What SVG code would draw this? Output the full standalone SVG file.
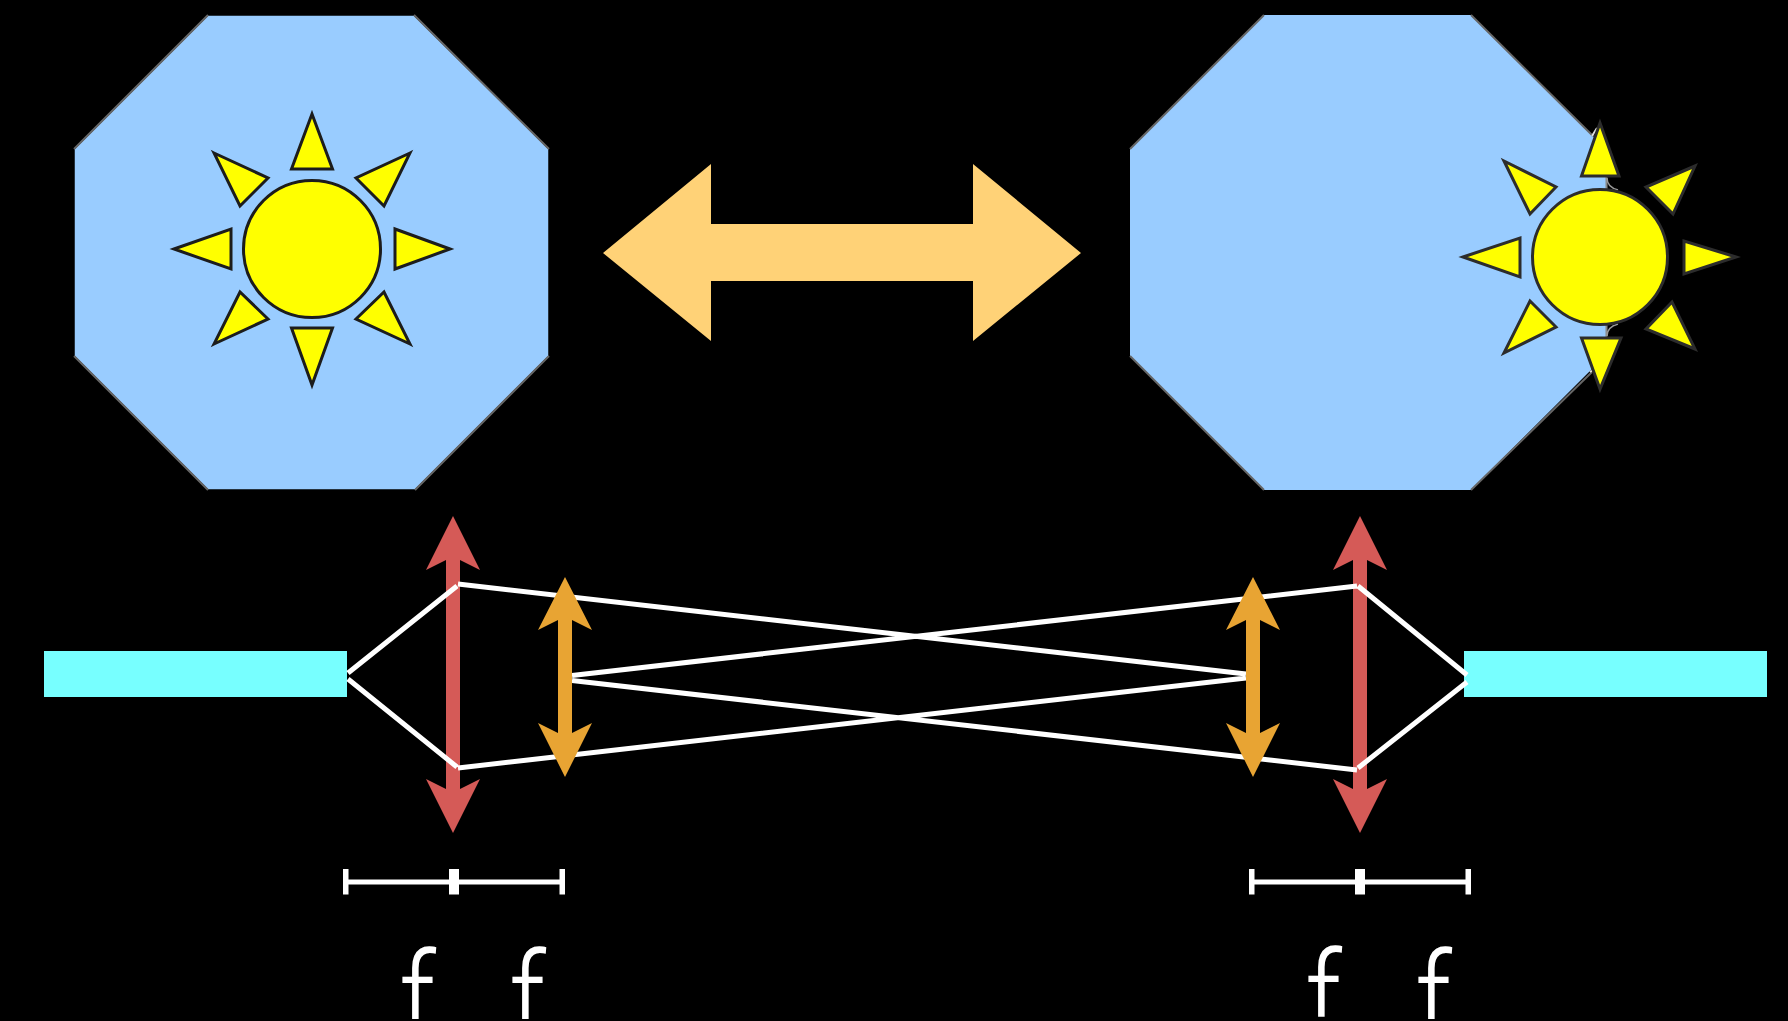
<svg xmlns="http://www.w3.org/2000/svg" width="1788" height="1021" viewBox="0 0 1788 1021">
<style>
.oct{fill:#99ccff;stroke:#000;stroke-width:1.5}
.edge{fill:none;stroke:#666;stroke-width:2}
.sun{fill:#ffff00;stroke:#1c1c1c;stroke-width:3;stroke-linejoin:miter}
.sunr{stroke:#2c2c2c}
.bar{fill:#77ffff}
.red{fill:#d55a57}
.org{fill:#e8a433}
.ray{fill:none;stroke:#fff;stroke-width:5}
.dim{fill:#fff}
.lbl{font-family:Roboto,"DejaVu Sans",sans-serif;font-weight:300;font-size:130px;fill:#fff}
</style>
<defs>
<clipPath id="c1"><rect x="0" y="900" width="1788" height="119"/></clipPath>
<clipPath id="c2"><rect x="0" y="900" width="1788" height="116.7"/></clipPath>
</defs>
<rect width="1788" height="1021" fill="#000"/>
<g id="window-left">
<polygon class="oct" points="208,15 414,15 549,149 549,356 415,490 208,490 74,356 74,149"/>
<path class="edge" d="M208,15L74,149M549,356L415,490M414,15L549,149M74,356L208,490"/>
</g>
<g id="sun-left" class="sun">
<circle cx="312" cy="249" r="68.5"/>
<polygon points="312,114 291.5,169 332.5,169"/>
<polygon points="312,385 291.5,328 332.5,328"/>
<polygon points="174,249 231,229 231,269"/>
<polygon points="450,249 395,229 395,269"/>
<polygon points="214,153 268,178 240,206"/>
<polygon points="410,153 356,178 384,206"/>
<polygon points="214,344 268,319 240,292"/>
<polygon points="410,344 356,319 384,292"/>
</g>
<g id="double-arrow">
<polygon points="603,253 711,164 711,224 973,224 973,164 1081,253 973,341 973,281 711,281 711,341" fill="#ffd277"/>
</g>
<g id="window-right">
<polygon points="1264,15 1471,15 1606,149 1606,355 1471,490 1264,490 1130,356 1130,149" fill="#99ccff"/>
<path class="edge" d="M1264,15L1130,149M1593,136L1471,15M1130,356L1264,490M1471,490L1592,372"/>
<path d="M1606.5,176L1606.5,191M1606.5,323L1606.5,338" fill="none" stroke="#888" stroke-width="2"/>
<path d="M1607,178Q1607,187 1618,190M1607,336Q1607,327 1618,324" fill="none" stroke="#999" stroke-width="1.5"/>
<path d="M1592,136L1597,128M1590,372L1596,368" fill="none" stroke="#ddd" stroke-width="2"/>
</g>
<g id="sun-right" class="sun sunr">
<circle cx="1600" cy="257" r="67.5"/>
<polygon points="1600,123 1581.5,176 1619,176"/>
<polygon points="1600,389 1581.5,338 1621,338"/>
<polygon points="1463,257 1520,238 1520,277"/>
<polygon points="1736,257 1684,241 1684,274"/>
<polygon points="1504,161 1556,187 1530,214"/>
<polygon points="1695,166 1646,187 1673,214"/>
<polygon points="1504,353 1556,327 1530,301"/>
<polygon points="1695,349 1646,329 1672,302"/>
</g>
<g id="screen-left"><rect class="bar" x="44" y="651" width="303" height="46"/></g>
<g id="screen-right"><rect class="bar" x="1464" y="651" width="303" height="46"/></g>
<g id="lens-red-left" class="red"><polygon points="453,516 480,570 460,560 460,789 480,779 453,833 426,779 446,789 446,560 426,570"/></g>
<g id="lens-red-right" class="red"><polygon points="1360,516 1387,570 1367,560 1367,789 1387,779 1360,833 1333,779 1353,789 1353,560 1333,570"/></g>
<g id="rays">
<path class="ray" d="M348,673L457,586M348,679L457,767M458,584L1246,674M458,768L1246,678M572,675.5L1357,586M572,680.5L1357,770M1358,586L1467,675M1358,768L1467,682"/>
</g>
<g id="lens-orange-left" class="org"><polygon points="565,577 592,630 572,620 572,733 592,723 565,777 538,723 558,733 558,620 538,630"/></g>
<g id="lens-orange-right" class="org"><polygon points="1253,577 1280,630 1260,620 1260,733 1280,723 1253,777 1226,723 1246,733 1246,620 1226,630"/></g>
<g id="dim-left" class="dim">
<rect x="346" y="879.5" width="216" height="5"/><rect x="343" y="869" width="5.5" height="25.5"/><rect x="449" y="869" width="10" height="25.5"/><rect x="559.5" y="869" width="5.5" height="25.5"/>
</g>
<g id="dim-right" class="dim">
<rect x="1252" y="879.5" width="216" height="5"/><rect x="1249" y="869" width="5.5" height="25.5"/><rect x="1355" y="869" width="10" height="25.5"/><rect x="1465.5" y="869" width="5.5" height="25.5"/>
</g>
<g id="labels">
<g clip-path="url(#c1)"><text class="lbl" transform="translate(399,1046) scale(0.85,1)">f</text></g>
<g clip-path="url(#c1)"><text class="lbl" transform="translate(509,1046) scale(0.85,1)">f</text></g>
<g clip-path="url(#c2)"><text class="lbl" transform="translate(1305,1044.5) scale(0.85,1)">f</text></g>
<g clip-path="url(#c1)"><text class="lbl" transform="translate(1415,1046) scale(0.85,1)">f</text></g>
</g>
</svg>
